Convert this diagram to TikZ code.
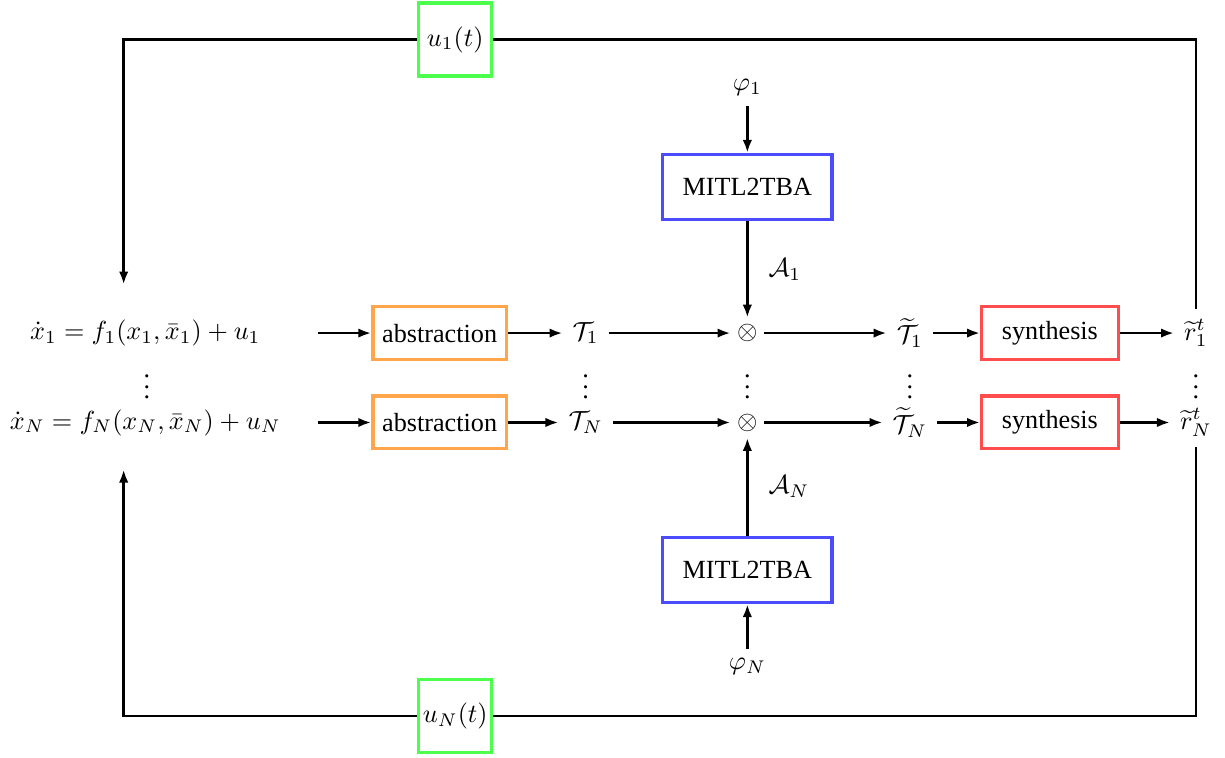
\documentclass[tikz,border=0pt]{standalone}
\usepackage[no-math]{fontspec}
\setmainfont{Liberation Serif}
\usetikzlibrary{positioning,arrows.meta}

\tikzset{
  eqnode/.style={minimum width=4.6cm},
  absbox/.style={draw=orange!70, very thick, minimum width=1.79cm, minimum height=0.71cm},
  synbox/.style={draw=red!70, very thick, minimum width=1.83cm, minimum height=0.71cm},
  autbox/.style={draw=blue!70, very thick, minimum width=2.27cm, minimum height=0.87cm},
  ctrlbox/.style={draw=green!70, very thick, fill=white, inner sep=1pt, minimum size=0.98cm},
  prod/.style={inner sep=2pt},
}

\begin{document}
\begin{tikzpicture}[>={Latex[length=5pt,width=3.6pt]}, line width=1pt]
    \useasboundingbox (0,0) rectangle (16.44,10.17);

    % 系统
    \node[eqnode] (eq1) at (1.95,5.7) {$\dot{x}_1 = f_1(x_1,\bar{x}_1) + u_1$};
    \node[eqnode] (eqN) at (1.95,4.5) {$\dot{x}_N = f_N(x_N,\bar{x}_N) + u_N$};
    \node (eqdots) at (1.97,5.08) {$\vdots$};

    % 抽象
    \node[absbox] (abs1) at (5.9,5.7) {abstraction};
    \node[absbox] (absN) at (5.9,4.5) {abstraction};
    \node (T1) at (7.86,5.7) {$\mathcal{T}_1$};
    \node (TN) at (7.86,4.5) {$\mathcal{T}_N$};
    \node (Tdots) at (7.86,5.08) {$\vdots$};

    % 乘积
    \node[prod] (ot1) at (10.03,5.7) {$\otimes$};
    \node[prod] (otN) at (10.03,4.5) {$\otimes$};
    \node (otdots) at (10.03,5.08) {$\vdots$};

    % MITL2TBA
    \node (phi1) at (10.03,8.99) {$\varphi_1$};
    \node[autbox] (aut1) at (10.03,7.66) {MITL2TBA};
    \node (phiN) at (10.03,1.22) {$\varphi_N$};
    \node[autbox] (autN) at (10.03,2.52) {MITL2TBA};

    % 综合
    \node (Tt1) at (12.21,5.7) {$\widetilde{\mathcal{T}}_1$};
    \node (TtN) at (12.21,4.5) {$\widetilde{\mathcal{T}}_N$};
    \node (Ttdots) at (12.21,5.08) {$\vdots$};
    \node[synbox] (syn1) at (14.09,5.7) {synthesis};
    \node[synbox] (synN) at (14.09,4.5) {synthesis};
    \node (rt1) at (16.05,5.7) {$\widetilde{r}_1^t$};
    \node (rtN) at (16.05,4.5) {$\widetilde{r}_N^t$};
    \node (rtdots) at (16.05,5.08) {$\vdots$};

    % 控制
    \node[ctrlbox] (u1) at (6.11,9.64) {$u_1(t)$};
    \node[ctrlbox] (uN) at (6.11,0.56) {$u_N(t)$};
    \coordinate (fb1) at (1.66,6.35);
    \coordinate (fbN) at (1.66,3.87);

    % 连线
    \draw[->] (eq1) -- (abs1);
    \draw[->] (eqN) -- (absN);
    \draw[->] (abs1) -- (T1);
    \draw[->] (absN) -- (TN);
    \draw[->] (T1) -- (ot1);
    \draw[->] (TN) -- (otN);
    \draw[->] (ot1) -- (Tt1);
    \draw[->] (otN) -- (TtN);
    \draw[->] (Tt1) -- (syn1);
    \draw[->] (TtN) -- (synN);
    \draw[->] (syn1) -- (rt1);
    \draw[->] (synN) -- (rtN);

    \draw[->] (phi1) -- (aut1);
    \draw[->] (aut1) -- node[right=0.15cm] {$\mathcal{A}_1$} (ot1);
    \draw[->] (phiN) -- (autN);
    \draw[->] (autN) -- node[right=0.15cm] {$\mathcal{A}_N$} (otN);

    % 反馈
    \draw (rt1.north) |- (u1.east);
    \draw[->] (u1.west) -| (fb1);
    \draw (rtN.south) |- (uN.east);
    \draw[->] (uN.west) -| (fbN);
\end{tikzpicture}
\end{document}
